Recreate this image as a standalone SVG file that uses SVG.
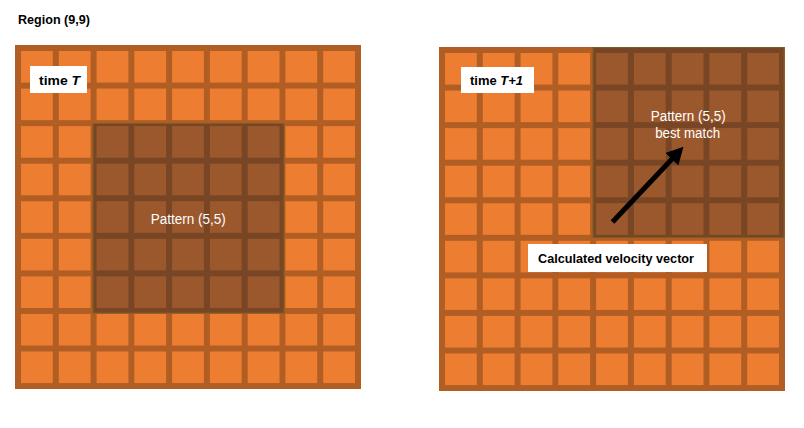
<svg xmlns="http://www.w3.org/2000/svg" xmlns:xlink="http://www.w3.org/1999/xlink" width="804" height="428" viewBox="0 0 804 428">
  <style>
    .bg { fill: #ffffff; }
    .frame { fill: #B15E24; }
    .cell { fill: #ED7D31; }
    .overlay { fill: #282428; fill-opacity: 0.41; stroke: #7a5c26; stroke-width: 1; }
    .lbl { fill: #ffffff; }
    .t { font-family: "Liberation Sans", Arial, sans-serif; font-size: 13px; fill: #000000; }
    .b { font-weight: bold; }
    .w { fill: #ffffff; font-size: 14px; }
    .arrow { stroke: #000000; stroke-width: 5; fill: none; }
  </style>
  <defs>
    <g id="row">
      <rect class="cell" x="6" y="0" width="31.8" height="31.6"/>
      <rect class="cell" x="43.8" y="0" width="31.8" height="31.6"/>
      <rect class="cell" x="81.6" y="0" width="31.8" height="31.6"/>
      <rect class="cell" x="119.3" y="0" width="31.8" height="31.6"/>
      <rect class="cell" x="157.1" y="0" width="31.8" height="31.6"/>
      <rect class="cell" x="194.9" y="0" width="31.8" height="31.6"/>
      <rect class="cell" x="232.7" y="0" width="31.8" height="31.6"/>
      <rect class="cell" x="270.4" y="0" width="31.8" height="31.6"/>
      <rect class="cell" x="308.2" y="0" width="31.8" height="31.6"/>
    </g>
    <g id="grid">
      <rect class="frame" x="0" y="0" width="346" height="344"/>
      <use xlink:href="#row" y="6"/>
      <use xlink:href="#row" y="43.56"/>
      <use xlink:href="#row" y="81.12"/>
      <use xlink:href="#row" y="118.68"/>
      <use xlink:href="#row" y="156.24"/>
      <use xlink:href="#row" y="193.8"/>
      <use xlink:href="#row" y="231.36"/>
      <use xlink:href="#row" y="268.92"/>
      <use xlink:href="#row" y="306.48"/>
    </g>
    <marker id="head" markerUnits="userSpaceOnUse" viewBox="0 0 17 18" refX="1" refY="9" markerWidth="17" markerHeight="18" orient="auto">
      <path d="M0,0 L17,9 L0,18 z" fill="#000000"/>
    </marker>
  </defs>

  <rect class="bg" x="0" y="0" width="804" height="428"/>

  <g id="title">
    <text class="t b" x="18" y="23.5" textLength="72" lengthAdjust="spacingAndGlyphs">Region (9,9)</text>
  </g>

  <g id="grid-t">
    <use xlink:href="#grid" x="15" y="45"/>
  </g>
  <g id="grid-t1">
    <use xlink:href="#grid" x="439" y="47"/>
  </g>

  <g id="pattern-t">
    <rect class="overlay" x="93" y="123.5" width="191" height="189.5"/>
    <text class="t w" x="188.2" y="223.5" text-anchor="middle" textLength="75" lengthAdjust="spacingAndGlyphs">Pattern (5,5)</text>
  </g>

  <g id="pattern-t1">
    <rect class="overlay" x="593" y="47.5" width="191" height="190"/>
    <text class="t w" x="688.2" y="121" text-anchor="middle" textLength="75" lengthAdjust="spacingAndGlyphs">Pattern (5,5)</text>
    <text class="t w" x="687.7" y="138" text-anchor="middle" textLength="65" lengthAdjust="spacingAndGlyphs">best match</text>
  </g>

  <g id="label-t">
    <rect class="lbl" x="30" y="66" width="57" height="27"/>
    <text class="t b" x="39" y="84.5" textLength="41" lengthAdjust="spacingAndGlyphs">time <tspan font-style="italic">T</tspan></text>
  </g>

  <g id="label-t1">
    <rect class="lbl" x="461" y="67" width="73" height="26"/>
    <text class="t b" x="470" y="84.5" textLength="53" lengthAdjust="spacingAndGlyphs">time <tspan font-style="italic">T+1</tspan></text>
  </g>

  <g id="label-vector">
    <rect class="lbl" x="528" y="244" width="179" height="28"/>
    <text class="t b" x="538" y="263" textLength="156" lengthAdjust="spacingAndGlyphs">Calculated velocity vector</text>
  </g>

  <g id="connectors">
    <line class="arrow" x1="612.5" y1="222" x2="672.5" y2="158.5" marker-end="url(#head)"/>
  </g>
</svg>
